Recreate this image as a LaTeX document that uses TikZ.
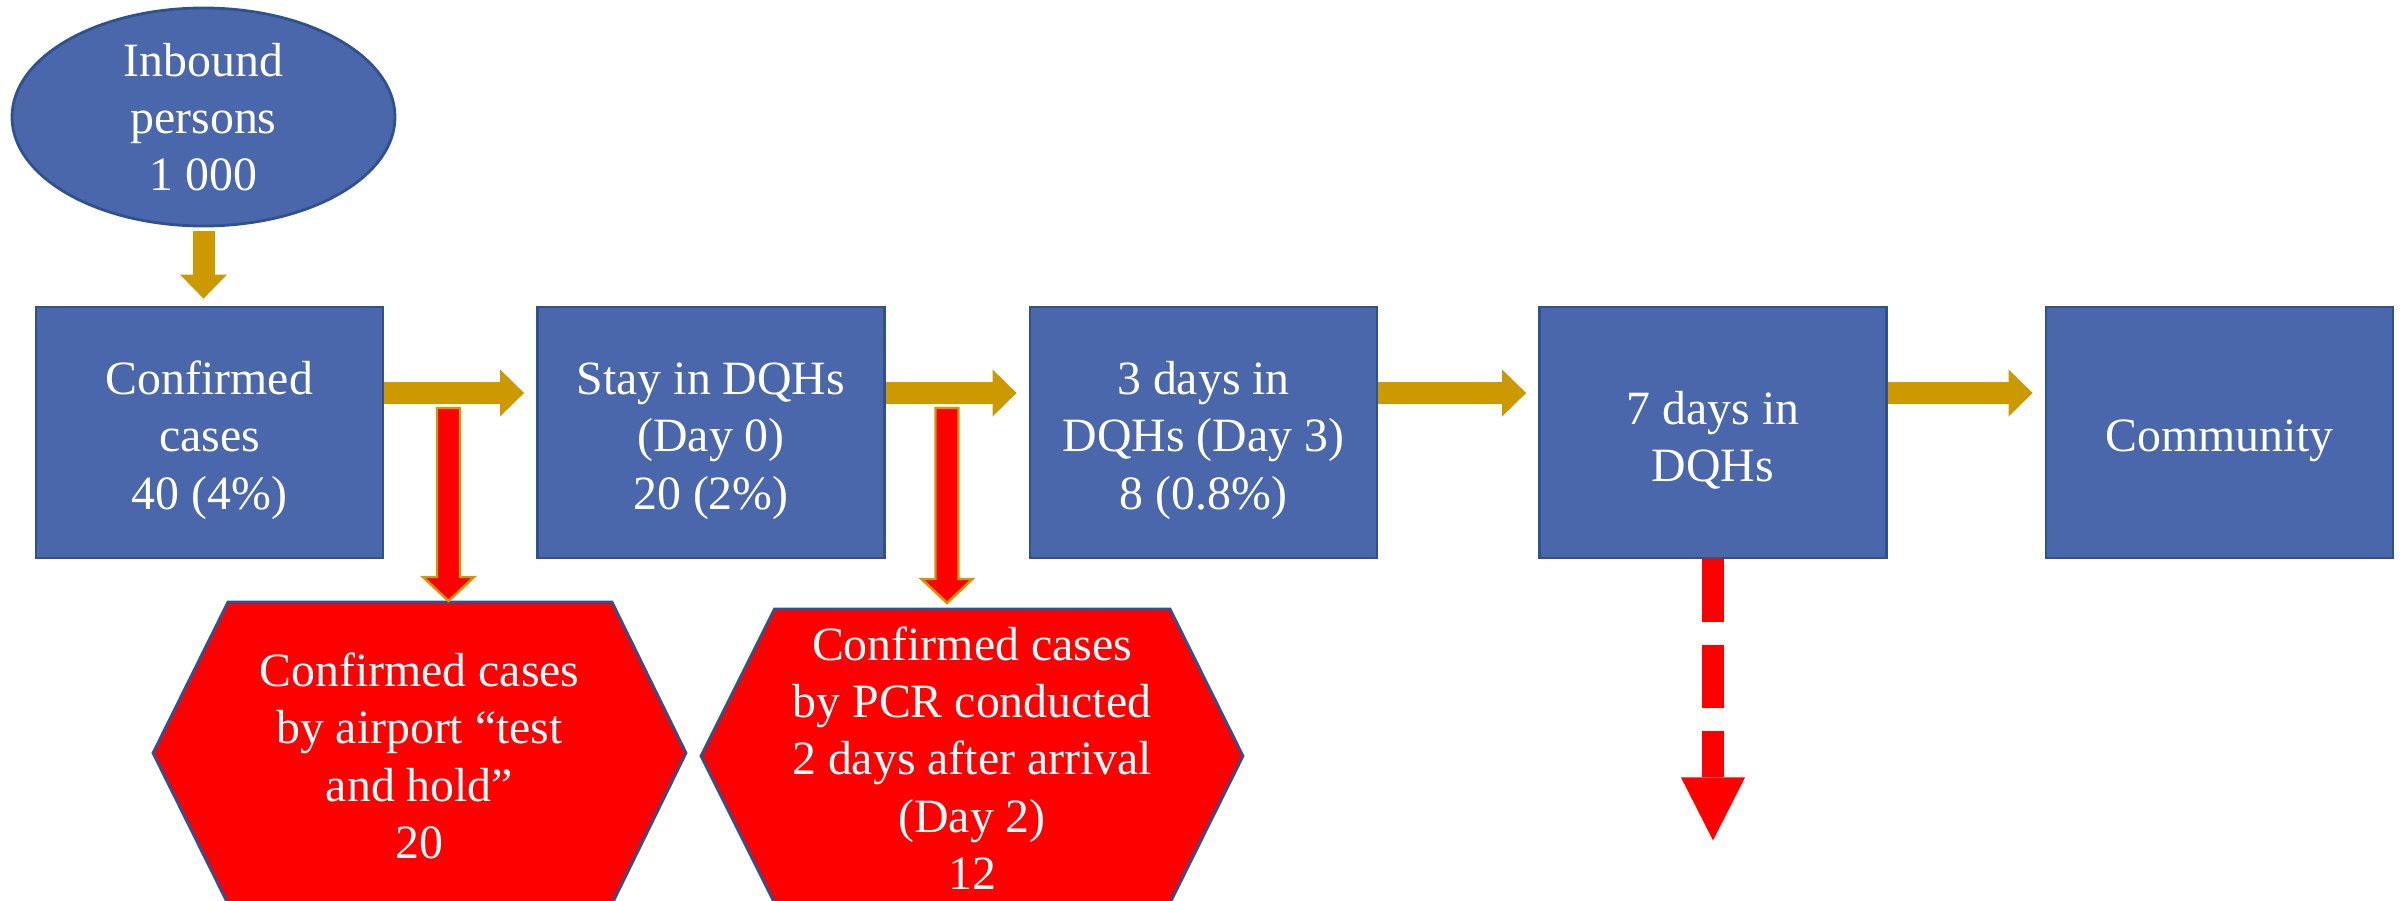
\documentclass[tikz,border=0pt]{standalone}
\usepackage{fontspec}
\setmainfont{Liberation Serif}
\usetikzlibrary{shapes.geometric,arrows.meta}

\definecolor{boxblue}{RGB}{74,103,172}
\definecolor{lineblue}{RGB}{47,82,143}
\definecolor{gold}{RGB}{204,153,0}

\newcommand{\pad}{\rule{0pt}{0.49cm}}

\tikzset{
	stage/.style={rectangle, fill=boxblue, draw=lineblue, line width=0.8pt, minimum width=3.47cm, minimum height=2.51cm, text=white, align=center, font=\fontsize{13.6}{16.3}\selectfont},
	inbound/.style={ellipse, fill=boxblue, draw=lineblue, line width=0.8pt, minimum width=3.83cm, minimum height=2.18cm, inner sep=0pt, text=white, align=center, font=\fontsize{13.6}{16.3}\selectfont},
	hexa/.style={fill=red, draw=lineblue, line width=0.8pt},
	hextext/.style={text=white, align=center, font=\fontsize{13.6}{16.3}\selectfont},
	goldarrow/.style={draw=gold, line width=0.22cm, -{Triangle[width=0.47cm,length=0.24cm,line width=0pt]}, shorten <=0cm, shorten >=0.12cm},
	redarrow/.style={fill=red, draw=gold, line width=0.7pt},
	dasharrow/.style={draw=red, line width=0.22cm, dash pattern=on 0.63cm off 0.23cm, -{Triangle[width=0.64cm,length=0.63cm,line width=0pt]}}
}

\newcommand{\redblock}[3]{\filldraw[redarrow] (#1-0.115,#2) -- (#1+0.115,#2) -- (#1+0.115,#3+0.24) -- (#1+0.255,#3+0.24) -- (#1,#3) -- (#1-0.255,#3+0.24) -- (#1-0.115,#3+0.24) -- cycle;}

\begin{document}
\begin{tikzpicture}
	\useasboundingbox (0,0) rectangle (24.08,-9.01);
	\begin{scope}
	\node[inbound] (1) at (2.035, -1.17) {Inbound\\persons\\1 000};
	\node[stage] (2) at (2.095, -4.325) {\pad Confirmed\\cases\\40 (4\%)};
	\node[stage] (3) at (7.11, -4.325) {\pad Stay in DQHs\\(Day 0)\\20 (2\%)};
	\node[stage] (4) at (12.035, -4.325) {\pad 3 days in\\DQHs (Day 3)\\8 (0.8\%)};
	\node[stage] (5) at (17.13, -4.325) {\pad 7 days in\\DQHs};
	\node[stage] (6) at (22.195, -4.325) {\pad Community};
	\draw[goldarrow, shorten <=0.04cm, shorten >=0.07cm] (1.south) -- (1.south |- 2.north);
	\draw[goldarrow] ([yshift=0.395cm]2.east) -- ([yshift=0.395cm]3.west);
	\draw[goldarrow] ([yshift=0.395cm]3.east) -- ([yshift=0.395cm]4.west);
	\draw[goldarrow] ([yshift=0.395cm]4.east) -- ([yshift=0.395cm]5.west);
	\draw[goldarrow] ([yshift=0.395cm]5.east) -- ([yshift=0.395cm]6.west);
	\end{scope}
	\begin{scope}
	\filldraw[hexa] (1.53, -7.53) -- (2.28, -6.02) -- (6.12, -6.02) -- (6.86, -7.53) -- (6.12, -9.04) -- (2.28, -9.04) -- cycle;
	\node[hextext] (7) at (4.195, -7.56) {Confirmed cases\\by airport “test\\and hold”\\20};
	\filldraw[hexa] (7.01, -7.56) -- (7.745, -6.09) -- (11.70, -6.09) -- (12.43, -7.56) -- (11.70, -9.03) -- (7.745, -9.03) -- cycle;
	\node[hextext] (8) at (9.72, -7.58) {Confirmed cases\\by PCR conducted\\2 days after arrival\\(Day 2)\\12};
	\redblock{4.485}{-4.08}{-6.01}
	\redblock{9.47}{-4.08}{-6.03}
	\draw[dasharrow] (5.south) -- ++(0, -2.81);
	\end{scope}
\end{tikzpicture}
\end{document}
